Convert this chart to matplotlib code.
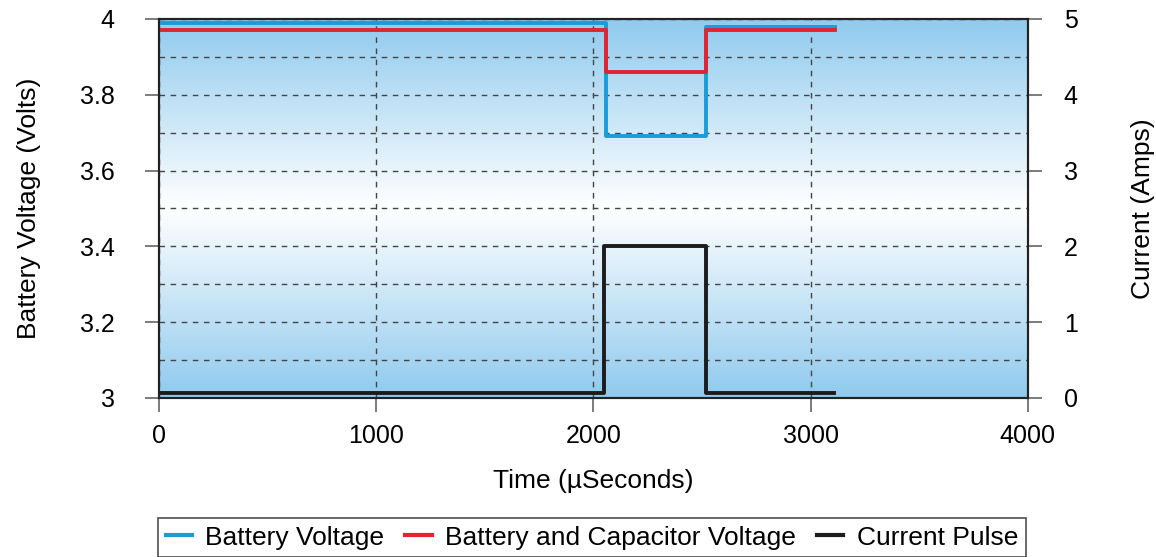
import numpy as np
import matplotlib.pyplot as plt
from matplotlib.colors import LinearSegmentedColormap
from matplotlib.lines import Line2D

plt.rcParams['font.family'] = ['Liberation Sans', 'DejaVu Sans']

# step data (time in microseconds)
t_batt = [0, 2060, 2060, 2520, 2520, 3115]
v_batt = [3.99, 3.99, 3.69, 3.69, 3.98, 3.98]

t_cap = [0, 2060, 2060, 2520, 2520, 3115]
v_cap = [3.97, 3.97, 3.86, 3.86, 3.97, 3.97]

t_cur = [0, 2050, 2050, 2520, 2520, 3110]
i_cur = [0.06, 0.06, 2.0, 2.0, 0.06, 0.06]

fig = plt.figure(figsize=(11.56, 5.57), dpi=100)
ax = fig.add_axes([0.1375, 0.2855, 0.7515, 0.6805])

# blue-white-blue background gradient
cmap = LinearSegmentedColormap.from_list('bg', ['#8fcaee', '#ffffff', '#8fcaee'])
grad = np.linspace(0, 1, 256).reshape(-1, 1)
ax.imshow(grad, extent=[0, 4000, 3, 4], aspect='auto', cmap=cmap, origin='lower',
          zorder=0, interpolation='bicubic')

ax.set_xlim(0, 4000)
ax.set_ylim(3, 4)
ax.set_yticks(np.arange(3, 4.01, 0.2))
ax.set_yticklabels(['3', '3.2', '3.4', '3.6', '3.8', '4'])
ax.set_yticks(np.arange(3.1, 4.0, 0.2), minor=True)
ax.set_xticks([0, 1000, 2000, 3000, 4000])
ax.tick_params(axis='both', which='major', labelsize=18, length=10, width=1.2,
               color='#666666', direction='out')
ax.tick_params(axis='y', which='major', pad=22)
ax.tick_params(axis='x', which='major', pad=9)
ax.tick_params(axis='y', which='minor', length=0)
ax.grid(True, which='both', axis='y', linestyle=(0, (4, 4)), color='#444444', linewidth=1)
ax.grid(True, which='major', axis='x', linestyle=(0, (4, 4)), color='#444444', linewidth=1)

ax.plot(t_batt, v_batt, color='#1b9bd7', linewidth=2.8, zorder=3)
ax.plot(t_cap, v_cap, color='#e32232', linewidth=2.8, zorder=4)

ax2 = ax.twinx()
ax2.set_ylim(0, 5)
ax2.set_yticks([0, 1, 2, 3, 4, 5])
ax2.tick_params(axis='y', labelsize=18, length=10, width=1.2, color='#666666', pad=16)
ax2.plot(t_cur, i_cur, color='#1c1c1c', linewidth=2.8, zorder=5)

for a in (ax, ax2):
    for s in a.spines.values():
        s.set_color('#222222')
        s.set_linewidth(1.5)

ax.set_xlabel('Time (µSeconds)', fontsize=19, labelpad=15)
ax.set_ylabel('Battery Voltage (Volts)', fontsize=19, labelpad=28)
ax2.set_ylabel('Current (Amps)', fontsize=19, labelpad=38)

handles = [Line2D([], [], color='#1b9bd7', linewidth=3),
           Line2D([], [], color='#e32232', linewidth=3),
           Line2D([], [], color='#1c1c1c', linewidth=3)]
labels = ['Battery Voltage', 'Battery and Capacitor Voltage', 'Current Pulse']
leg = fig.legend(handles, labels, loc='center', bbox_to_anchor=(0.512, 0.035), ncol=3,
                 fontsize=19, frameon=True, fancybox=False, handlelength=1.0,
                 handletextpad=0.5, columnspacing=0.8, borderpad=0.3)
leg.get_frame().set_edgecolor('#222222')
leg.get_frame().set_linewidth(1.2)

fig.savefig('out.png', dpi=100)
